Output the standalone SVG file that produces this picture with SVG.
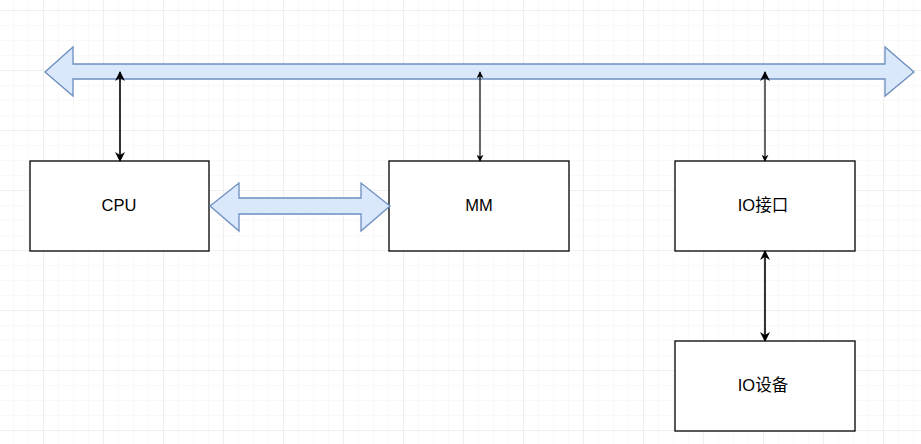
<svg xmlns="http://www.w3.org/2000/svg" width="921" height="444" viewBox="0 0 921 444">
  <defs>
    <pattern id="minor" width="15" height="15" patternUnits="userSpaceOnUse" x="13" y="10">
      <path d="M0 0H15M0 0V15" fill="none" stroke="#f3f3f3" stroke-width="1"/>
    </pattern>
    <pattern id="major" width="60" height="60" patternUnits="userSpaceOnUse" x="43" y="10">
      <path d="M0 0H60M0 0V60" fill="none" stroke="#e6e6e6" stroke-width="1"/>
    </pattern>
    <marker id="head" viewBox="0 0 10 10" refX="9" refY="5" markerWidth="7" markerHeight="7" orient="auto-start-reverse" markerUnits="userSpaceOnUse">
      <path d="M0 0L10 5L0 10L3 5Z" fill="#000"/>
    </marker>
    <marker id="headL" viewBox="0 0 10 10" refX="9" refY="5" markerWidth="10" markerHeight="10" orient="auto-start-reverse" markerUnits="userSpaceOnUse">
      <path d="M0 0L10 5L0 10L3 5Z" fill="#000"/>
    </marker>
  </defs>
  <style>
    .box { fill: #ffffff; stroke: #000000; stroke-width: 1.3; }
    .label { font-family: "Liberation Sans", "Noto Sans CJK SC", sans-serif; font-size: 16.5px; fill: #000; text-anchor: middle; }
    .bus { fill: #dae8fc; stroke: #6c8ebf; stroke-width: 1.3; }
    .link { stroke: #000; fill: none; }
  </style>

  <!-- background grid -->
  <rect width="921" height="444" fill="#ffffff"/>
  <rect width="921" height="444" fill="url(#minor)"/>
  <rect width="921" height="444" fill="url(#major)"/>

  <!-- system bus -->
  <g id="system-bus">
    <path class="bus" d="M45 72L73 47V64H885V47L914 72L885 96V79H73V96Z"/>
  </g>

  <!-- nodes -->
  <g id="cpu">
    <rect class="box" x="30" y="161" width="179" height="90"/>
    <text class="label" x="119" y="211">CPU</text>
  </g>
  <g id="mm">
    <rect class="box" x="389" y="161" width="180" height="90"/>
    <text class="label" x="479" y="211">MM</text>
  </g>
  <g id="io-interface">
    <rect class="box" x="675" y="161" width="180" height="90"/>
    <text class="label" x="763" y="211">IO接口</text>
  </g>
  <g id="io-device">
    <rect class="box" x="675" y="341" width="180" height="90"/>
    <text class="label" x="763" y="391">IO设备</text>
  </g>

  <!-- connectors -->
  <g id="connectors">
    <path class="bus" d="M210 206L239 183V198H361V183L390 206L361 231V214H239V231Z"/>
    <line class="link" x1="120" y1="72" x2="120" y2="161" stroke-width="1.6" marker-start="url(#headL)" marker-end="url(#headL)"/>
    <line class="link" x1="480" y1="72" x2="480" y2="161" stroke-width="1.2" marker-start="url(#head)" marker-end="url(#head)"/>
    <line class="link" x1="765" y1="72" x2="765" y2="161" stroke-width="1.2" marker-start="url(#headL)" marker-end="url(#head)"/>
    <line class="link" x1="765" y1="251" x2="765" y2="341" stroke-width="1.6" marker-start="url(#headL)" marker-end="url(#headL)"/>
  </g>
</svg>
